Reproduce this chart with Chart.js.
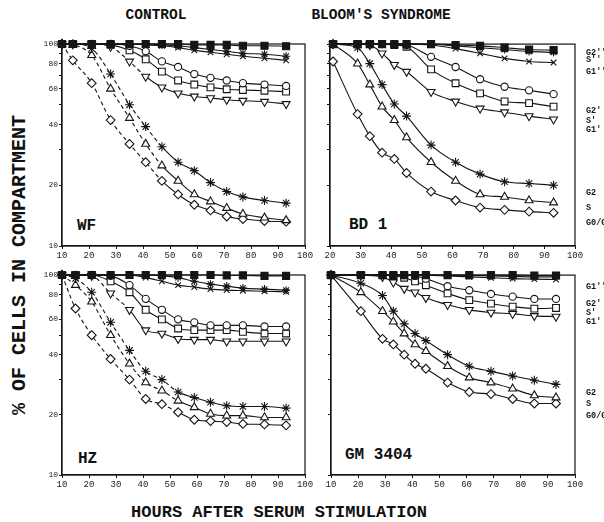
<!DOCTYPE html>
<html><head><meta charset="utf-8">
<script src="https://cdn.jsdelivr.net/npm/chart.js@4.4.0/dist/chart.umd.min.js"></script>
<style>
html,body{margin:0;padding:0;background:#fff;width:604px;height:522px;overflow:hidden;position:relative;font-family:"Liberation Mono","DejaVu Sans Mono",monospace;}
canvas{position:absolute;}
.t{position:absolute;font-weight:bold;color:#111;white-space:nowrap;line-height:1;}
.c{transform:translate(-50%,-50%);}
</style></head><body>
<div class="t c" style="left:156px;top:15px;font-size:14.5px;">CONTROL</div>
<div class="t c" style="left:381px;top:15px;font-size:14.5px;">BLOOM'S SYNDROME</div>
<div class="t c" style="left:279px;top:512px;font-size:17px;">HOURS AFTER SERUM STIMULATION</div>
<div class="t c" style="left:20px;top:265px;font-size:20px;transform:translate(-50%,-50%) rotate(-90deg);">% OF CELLS IN COMPARTMENT</div>
<div class="t" style="left:77px;top:218px;font-size:16px;">WF</div>
<div class="t" style="left:349px;top:217px;font-size:16px;">BD 1</div>
<div class="t" style="left:78px;top:451px;font-size:16px;">HZ</div>
<div class="t" style="left:345px;top:447px;font-size:16px;">GM 3404</div>
<script>
// ---------------- DATA ----------------
// WF (control)
const wfHours  = [10,14,21,28,35,41,47,53,59,65,71,77,85,93];
const wfG0G1   = [100,83,64,42,32,26,21,18,16,15,14,13.6,13.3,13.2];
const wfS      = [100,99,88,60,43,32,25,21,18,16.6,15.4,14.4,13.8,13.4];
const wfG2     = [100,100,95,71,50,39,31,26,23.6,20.6,18.6,17.5,16.8,16.3];
const wfG1p    = [100,100,100,97,82,69,61,57,55,54,53,52.4,51.8,50.5];
const wfSp     = [100,100,100,99,93,84,73,66,63,61,59.7,59.2,58.7,58.1];
const wfG2p    = [100,100,100,100,98,92,82,77,71,68,66,64,63,62];
const wfG1pp   = [100,100,100,100,100,99,98,96,93,91,89,87,85,83];
const wfSpp    = [100,100,100,100,100,100,99,98,96,94,92,90,89,87];
const wfG2pp   = [100,100,100,100,100,100,100,100,99,99,99,98,98,97.5];
// BD 1 (Bloom's syndrome)
const bdHours  = [21,29,33,37,41,45,53,61,69,77,85,93];
const bdG0G1   = [82,45,35,29,27,23,18.6,16.8,15.5,15.1,14.8,14.6];
const bdS      = [100,80,63,49,42,34.5,26,21,18,17.5,16.8,16.4];
const bdG2     = [100,96,80,63,50.5,44,31.6,26,22.7,20.8,20.4,20];
const bdG1p    = [100,100,99,90,79,73,58,52,48,46,44,42.4];
const bdSp     = [100,100,100,100,99,97,75,64,57,52,51,49];
const bdG2p    = [100,100,100,100,100,99,86.5,77,67,61.5,59,56.5];
const bdG1pp   = [100,100,100,100,100,100,99,95,90,85,82,81];
const bdSpp    = [100,100,100,100,100,100,100,98,96,94,92,91];
const bdG2pp   = [100,100,100,100,100,100,100,99,98,96,94,93.4];
// HZ (control)
const hzHours  = [10,15,21,28,35,41,47,53,59,65,71,77,85,93];
const hzG0G1   = [100,68,50,38,30,24,22.6,20.6,18.9,18.6,18.4,18,17.9,17.7];
const hzS      = [100,89,73.5,50,36,29,26.4,23.5,21.8,20.2,19.8,19.8,19.4,19.4];
const hzG2     = [100,96,82,58,42,33,30,26,24.4,23.1,22.2,22,22,21.6];
const hzG1p    = [100,100,99,81,67,53,51,48,47.5,47.5,46.6,46.6,46.6,46.6];
const hzSp     = [100,100,100,93,82,67,60,54,53,53,53,52,51,51];
const hzG2p    = [100,100,100,99,89,76,67,60,58,56,56,56,55.3,55.3];
const hzG1pp   = [100,100,100,100,100,97,93,89,87,85,84,83.5,83,82.4];
const hzSpp    = [100,100,100,100,100,100,99,97,93,90,88,86,85,84];
const hzG2pp   = [100,100,100,100,100,100,100,100,100,100,99.5,99.5,99,99];
// GM 3404 (Bloom's syndrome)
const gmHours  = [10,21,29,33,37,41,45,53,61,69,77,85,93];
const gmG0G1   = [100,66,48,45,40,36,34,29,26,25.4,24,22.8,22.8];
const gmS      = [100,82,66,58.5,51,45,41.6,35,30.7,29,27,25,24.4];
const gmG2     = [100,91,79,66,57,51,47,40,35,33,31.3,29.8,28.4];
const gmG1p    = [100,100,98,92,85.5,82,77,71,67,65,64,62.5,62];
const gmSp     = [100,100,100,99,97,93,89,81,75,72,69.5,68,68.5];
const gmG2p    = [100,100,100,100,100,99,96,88,84,80.5,78,76,76];
const gmG1pp   = [100,100,100,100,100,100,100,99,98,97,96,95.5,95];
const gmSpp    = [100,100,100,100,100,100,100,100,99.5,99,98.5,98,98];
const gmG2pp   = [100,100,100,100,100,100,100,100,100,100,100,99.5,99.5];

// tick labels
const xTicksFull   = [10,20,30,40,50,60,70,80,90,100];
const xTicksBD     = [20,30,40,50,60,70,80,90,100];
const yTickMarks   = [10,20,30,40,50,60,70,80,90,100];
const yTickLabels  = [10,20,40,60,80,100];
const bdSideNames  = ["G2''","S''","G1''","G2'","S'","G1'","G2","S","G0/G1"];
const bdSideAt     = [90.2,83.3,72.7,46.6,41.5,37.5,18.3,15.4,13.0];
const gmSideNames  = ["G1''","G2'","S'","G1'","G2","S","G0/G1"];
const gmSideAt     = [87.2,71.9,64.9,58.4,25.8,22.7,19.8];

// ---------------- STYLE ----------------
const INK = '#151515';
const order = ['G2pp','Spp','G1pp','G2p','Sp','G1p','G2','S','G0G1'];
const marks = {
  G2pp:{style:'rect',r:5,fill:INK,rot:0},
  Spp:{style:'star',r:4,fill:INK,rot:0},
  G1pp:{style:'crossRot',r:4,fill:'#fff',rot:0},
  G2p:{style:'circle',r:3.6,fill:'#fff',rot:0},
  Sp:{style:'rect',r:4.8,fill:'#fff',rot:0},
  G1p:{style:'triangle',r:4.6,fill:'#fff',rot:180},
  G2:{style:'star',r:4.5,fill:'#fff',rot:0},
  S:{style:'triangle',r:4.6,fill:'#fff',rot:0},
  G0G1:{style:'rectRot',r:4.4,fill:'#fff',rot:0}
};
Chart.defaults.font.family = "'Liberation Mono','DejaVu Sans Mono',monospace";

const boxPlugin = {
  id:'box',
  beforeDatasetsDraw(chart){
    const a = chart.chartArea, c = chart.ctx;
    c.save(); c.strokeStyle = INK; c.lineWidth = 1.2;
    c.strokeRect(a.left, a.top, a.right - a.left, a.bottom - a.top);
    c.restore();
  }
};

function panel(box, hours, series, o){
  const LW = o.yLabels ? 40 : 10, PT = 8, XH = 17, RW = o.side ? 30 : 14;
  const cv = document.createElement('canvas');
  cv.width = LW + box.w + RW; cv.height = PT + box.h + XH;
  cv.style.left = (box.x - LW) + 'px'; cv.style.top = (box.y - PT) + 'px';
  document.body.appendChild(cv);
  const dashed = o.dashed || {};
  const datasets = order.map(k => {
    const m = marks[k];
    const lim = dashed[k];
    return {
      label:k,
      data: hours.map((h,i)=>({x:h, y:series[k][i]})),
      borderColor: INK, borderWidth: 1.1,
      pointStyle: m.style, pointRadius: m.r, pointRotation: m.rot,
      pointBackgroundColor: m.fill, pointBorderColor: INK, pointBorderWidth: 1.1,
      cubicInterpolationMode: 'monotone', clip: false, fill: false,
      segment: lim ? { borderDash: ctx => ctx.p1.parsed.x <= lim ? [4,3] : undefined } : undefined
    };
  });
  const grid = {display:true, drawOnChartArea:false, drawTicks:true, tickLength:3, color:INK, lineWidth:1};
  const scales = {
    x:{type:'linear', min:o.xmin, max:100,
       afterBuildTicks: s => { s.ticks = o.xticks.map(v=>({value:v})); },
       afterFit: s => { s.height = XH; },
       ticks:{autoSkip:false, maxRotation:0, padding:1, color:'#222', font:{size:9}, callback: v => String(v)},
       grid: grid, border:{display:true, color:INK, width:1.2}},
    y:{type:'logarithmic', min:10, max:100,
       afterBuildTicks: s => { s.ticks = yTickMarks.map(v=>({value:v})); },
       afterFit: s => { s.width = LW; },
       ticks:{autoSkip:false, padding:1, color:'#222', font:{size:8},
              callback: v => (o.yLabels && yTickLabels.includes(v)) ? String(v) : ''},
       grid: grid, border:{display:true, color:INK, width:1.2}}
  };
  if (o.side){
    scales.yr = {type:'logarithmic', position:'right', min:10, max:100,
      afterBuildTicks: s => { s.ticks = o.sideAt.map(v=>({value:v})); },
      afterFit: s => { s.width = RW; },
      ticks:{autoSkip:false, padding:3, color:INK, font:{size:8.5, weight:'bold'},
             callback: (v,i) => o.sideNames[i]},
      grid:{display:false}, border:{display:false}};
  }
  new Chart(cv, {
    type:'line',
    data:{datasets},
    options:{
      responsive:false, animation:false, events:[], devicePixelRatio:1,
      layout:{padding:{left:0, top:PT, right: o.side ? 0 : RW, bottom:0}},
      plugins:{legend:{display:false}, tooltip:{enabled:false}},
      scales
    },
    plugins:[boxPlugin]
  });
}

panel({x:62,y:44,w:243,h:202}, wfHours,
  {G0G1:wfG0G1,S:wfS,G2:wfG2,G1p:wfG1p,Sp:wfSp,G2p:wfG2p,G1pp:wfG1pp,Spp:wfSpp,G2pp:wfG2pp},
  {xmin:10, xticks:xTicksFull, yLabels:true, dashed:{G0G1:47,S:47,G2:47,G1p:41}});
panel({x:330,y:44,w:245,h:202}, bdHours,
  {G0G1:bdG0G1,S:bdS,G2:bdG2,G1p:bdG1p,Sp:bdSp,G2p:bdG2p,G1pp:bdG1pp,Spp:bdSpp,G2pp:bdG2pp},
  {xmin:20, xticks:xTicksBD, yLabels:false, side:true, sideNames:bdSideNames, sideAt:bdSideAt});
panel({x:62,y:275,w:243,h:200}, hzHours,
  {G0G1:hzG0G1,S:hzS,G2:hzG2,G1p:hzG1p,Sp:hzSp,G2p:hzG2p,G1pp:hzG1pp,Spp:hzSpp,G2pp:hzG2pp},
  {xmin:10, xticks:xTicksFull, yLabels:true, dashed:{G0G1:53,S:53,G2:53,G1p:35}});
panel({x:331,y:275,w:244,h:200}, gmHours,
  {G0G1:gmG0G1,S:gmS,G2:gmG2,G1p:gmG1p,Sp:gmSp,G2p:gmG2p,G1pp:gmG1pp,Spp:gmSpp,G2pp:gmG2pp},
  {xmin:10, xticks:xTicksFull, yLabels:false, side:true, sideNames:gmSideNames, sideAt:gmSideAt});
</script>
</body></html>
